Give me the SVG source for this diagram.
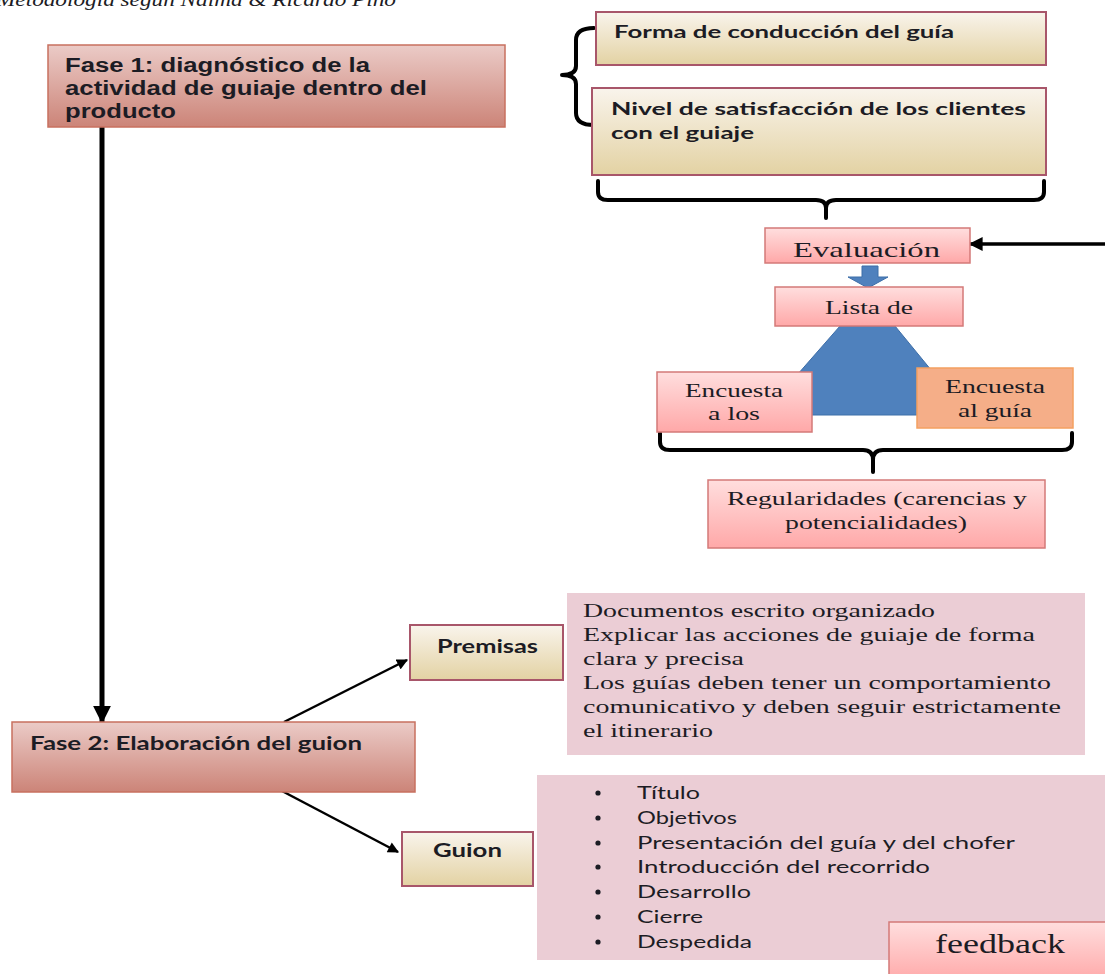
<svg xmlns="http://www.w3.org/2000/svg" width="1105" height="974" viewBox="0 0 1105 974">
<style>
.fase{fill:url(#gFase);stroke:#c8705f;stroke-width:1.5}
.beige{fill:url(#gBeige);stroke:#a8566a;stroke-width:2}
.pinkb{fill:url(#gPink);stroke:#d47a78;stroke-width:1.5}
.orange{fill:#f5ae88;stroke:#f4a060;stroke-width:1.5}
.note{fill:#ebcdd5}
.blue{fill:#4f81bd;stroke:#3d6ea8;stroke-width:1}
.brace{fill:none;stroke:#000;stroke-width:4;stroke-linecap:round;stroke-linejoin:round}
.arial{font-family:"Liberation Sans",Arial,sans-serif;font-weight:bold;font-size:19.5px;fill:#1c1c24}
.cal{font-family:Lato,"Open Sans",sans-serif;font-weight:bold;fill:#1c1c24}
.calr{font-family:Lato,"Open Sans",sans-serif;font-size:17px;fill:#1c1c24}
.serif{font-family:"Liberation Serif","Times New Roman",serif;fill:#1c1c24}
.conn{stroke:#000;fill:none}
</style>
<defs>
<linearGradient id="gFase" x1="0" y1="0" x2="0" y2="1"><stop offset="0" stop-color="#ebcbc7"/><stop offset="1" stop-color="#cc8478"/></linearGradient>
<linearGradient id="gBeige" x1="0" y1="0" x2="0" y2="1"><stop offset="0" stop-color="#f9f4ec"/><stop offset="1" stop-color="#e3d2a3"/></linearGradient>
<linearGradient id="gPink" x1="0" y1="0" x2="0" y2="1"><stop offset="0" stop-color="#ffdede"/><stop offset="1" stop-color="#ffa8a8"/></linearGradient>
<marker id="headBig" viewBox="0 0 10 10" refX="9" refY="5" markerUnits="userSpaceOnUse" markerWidth="18" markerHeight="18" orient="auto"><path d="M0,0 L10,5 L0,10 z" fill="#000"/></marker>
<marker id="headMid" viewBox="0 0 10 10" refX="9" refY="5" markerUnits="userSpaceOnUse" markerWidth="15" markerHeight="14" orient="auto"><path d="M0,0 L10,5 L0,10 z" fill="#000"/></marker>
<marker id="headSmall" viewBox="0 0 10 10" refX="9" refY="5" markerUnits="userSpaceOnUse" markerWidth="12" markerHeight="11" orient="auto"><path d="M0,0 L10,5 L0,10 z" fill="#000"/></marker>
</defs>
<rect width="1105" height="974" fill="#fff"/>

<text class="serif" x="-4" y="6" font-size="18" font-style="italic" textLength="400" lengthAdjust="spacingAndGlyphs">Metodología según Naima &amp; Ricardo Pino</text>

<g id="connectors">
<line class="conn" x1="102" y1="127" x2="102" y2="722" stroke-width="5" marker-end="url(#headBig)"/>
<line class="conn" x1="1105" y1="244" x2="970" y2="244" stroke-width="3.5" marker-end="url(#headMid)"/>
<line class="conn" x1="284" y1="722" x2="407" y2="660" stroke-width="2.5" marker-end="url(#headSmall)"/>
<line class="conn" x1="282" y1="791" x2="398" y2="852" stroke-width="2.5" marker-end="url(#headSmall)"/>
<path class="brace" d="M594,28 Q576,28 576,40 L576,66 Q576,75 562,75 Q576,75 576,84 L576,113 Q576,125 594,125"/>
<path class="brace" d="M598,181 L598,192 Q598,200 608,200 L816,200 Q826,200 826,208 L826,218 M826,208 Q826,200 836,200 L1034,200 Q1044,200 1044,192 L1044,181"/>
<path class="brace" d="M660,433 L660,442 Q660,450 670,450 L863,450 Q873,450 873,460 L873,472 M873,460 Q873,450 883,450 L1062,450 Q1072,450 1072,442 L1072,433"/>
<polygon class="blue" points="862,266 878,266 878,277 888,277 868,288 848,277 862,277"/>
<polygon class="blue" points="840,326 895,326 968,415 762,415"/>
</g>

<g id="fase1">
<rect class="fase" x="48" y="45" width="457" height="82"/>
<text class="arial" x="65" y="72" textLength="305" lengthAdjust="spacingAndGlyphs">Fase 1: diagnóstico de la</text>
<text class="arial" x="65" y="95" textLength="362" lengthAdjust="spacingAndGlyphs">actividad de guiaje dentro del</text>
<text class="arial" x="65" y="118" textLength="111" lengthAdjust="spacingAndGlyphs">producto</text>
</g>

<g id="forma">
<rect class="beige" x="596" y="12" width="450" height="53"/>
<text class="cal" x="614" y="38" font-size="16.5" textLength="340" lengthAdjust="spacingAndGlyphs">Forma de conducción del guía</text>
</g>

<g id="nivel">
<rect class="beige" x="592" y="88" width="454" height="87"/>
<text class="cal" x="611" y="115" font-size="16.5" textLength="415" lengthAdjust="spacingAndGlyphs">Nivel de satisfacción de los clientes</text>
<text class="cal" x="611" y="139" font-size="16.5" textLength="143" lengthAdjust="spacingAndGlyphs">con el guiaje</text>
</g>

<g id="evaluacion">
<rect class="pinkb" x="765" y="228" width="205" height="35"/>
<text class="serif" x="793" y="257" font-size="22" textLength="147" lengthAdjust="spacingAndGlyphs">Evaluación</text>
</g>

<g id="lista">
<rect class="pinkb" x="775" y="287" width="188" height="39"/>
<text class="serif" x="825" y="314" font-size="19" textLength="88" lengthAdjust="spacingAndGlyphs">Lista de</text>
</g>

<g id="encuesta-clientes">
<rect class="pinkb" x="657" y="372" width="155" height="60"/>
<text class="serif" x="685" y="397" font-size="19" textLength="98" lengthAdjust="spacingAndGlyphs">Encuesta</text>
<text class="serif" x="708" y="420" font-size="19" textLength="52" lengthAdjust="spacingAndGlyphs">a los</text>
</g>

<g id="encuesta-guia">
<rect class="orange" x="917" y="368" width="156" height="60"/>
<text class="serif" x="945" y="393" font-size="19" textLength="100" lengthAdjust="spacingAndGlyphs">Encuesta</text>
<text class="serif" x="958" y="417" font-size="19" textLength="74" lengthAdjust="spacingAndGlyphs">al guía</text>
</g>

<g id="regularidades">
<rect class="pinkb" x="708" y="480" width="337" height="68"/>
<text class="serif" x="727" y="505" font-size="19" textLength="300" lengthAdjust="spacingAndGlyphs">Regularidades (carencias y</text>
<text class="serif" x="785" y="529" font-size="19" textLength="182" lengthAdjust="spacingAndGlyphs">potencialidades)</text>
</g>

<g id="premisas">
<rect class="beige" x="410" y="625" width="153" height="55"/>
<text class="cal" x="437" y="653" font-size="18" textLength="101" lengthAdjust="spacingAndGlyphs">Premisas</text>
</g>

<g id="premisas-nota">
<rect class="note" x="567" y="593" width="518" height="162"/>
<g class="serif" font-size="18">
<text x="583" y="617" textLength="352" lengthAdjust="spacingAndGlyphs">Documentos escrito organizado</text>
<text x="583" y="641" textLength="452" lengthAdjust="spacingAndGlyphs">Explicar las acciones de guiaje de forma</text>
<text x="583" y="665" textLength="161" lengthAdjust="spacingAndGlyphs">clara y precisa</text>
<text x="583" y="689" textLength="468" lengthAdjust="spacingAndGlyphs">Los guías deben tener un comportamiento</text>
<text x="583" y="713" textLength="478" lengthAdjust="spacingAndGlyphs">comunicativo y deben seguir estrictamente</text>
<text x="583" y="737" textLength="130" lengthAdjust="spacingAndGlyphs">el itinerario</text>
</g>
</g>

<g id="fase2">
<rect class="fase" x="12" y="722" width="403" height="70"/>
<text class="cal" x="30" y="750" font-size="18" textLength="332" lengthAdjust="spacingAndGlyphs">Fase 2: Elaboración del guion</text>
</g>

<g id="guion">
<rect class="beige" x="402" y="832" width="131" height="54"/>
<text class="cal" x="433" y="857" font-size="18" textLength="69" lengthAdjust="spacingAndGlyphs">Guion</text>
</g>

<g id="guion-nota">
<rect class="note" x="537" y="775" width="568" height="185"/>
<g fill="#1c1c24">
<circle cx="598" cy="793" r="2.6"/>
<circle cx="598" cy="818" r="2.6"/>
<circle cx="598" cy="843" r="2.6"/>
<circle cx="598" cy="867" r="2.6"/>
<circle cx="598" cy="892" r="2.6"/>
<circle cx="598" cy="917" r="2.6"/>
<circle cx="598" cy="942" r="2.6"/>
</g>
<text class="calr" x="637" y="799" textLength="63" lengthAdjust="spacingAndGlyphs">Título</text>
<text class="calr" x="637" y="824" textLength="100" lengthAdjust="spacingAndGlyphs">Objetivos</text>
<text class="calr" x="637" y="849" textLength="378" lengthAdjust="spacingAndGlyphs">Presentación del guía y del chofer</text>
<text class="calr" x="637" y="873" textLength="293" lengthAdjust="spacingAndGlyphs">Introducción del recorrido</text>
<text class="calr" x="637" y="898" textLength="114" lengthAdjust="spacingAndGlyphs">Desarrollo</text>
<text class="calr" x="637" y="923" textLength="66" lengthAdjust="spacingAndGlyphs">Cierre</text>
<text class="calr" x="637" y="948" textLength="115" lengthAdjust="spacingAndGlyphs">Despedida</text>
</g>

<g id="feedback">
<rect class="pinkb" x="889" y="922" width="220" height="60"/>
<text class="serif" x="935" y="953" font-size="27" textLength="130" lengthAdjust="spacingAndGlyphs">feedback</text>
</g>
</svg>
